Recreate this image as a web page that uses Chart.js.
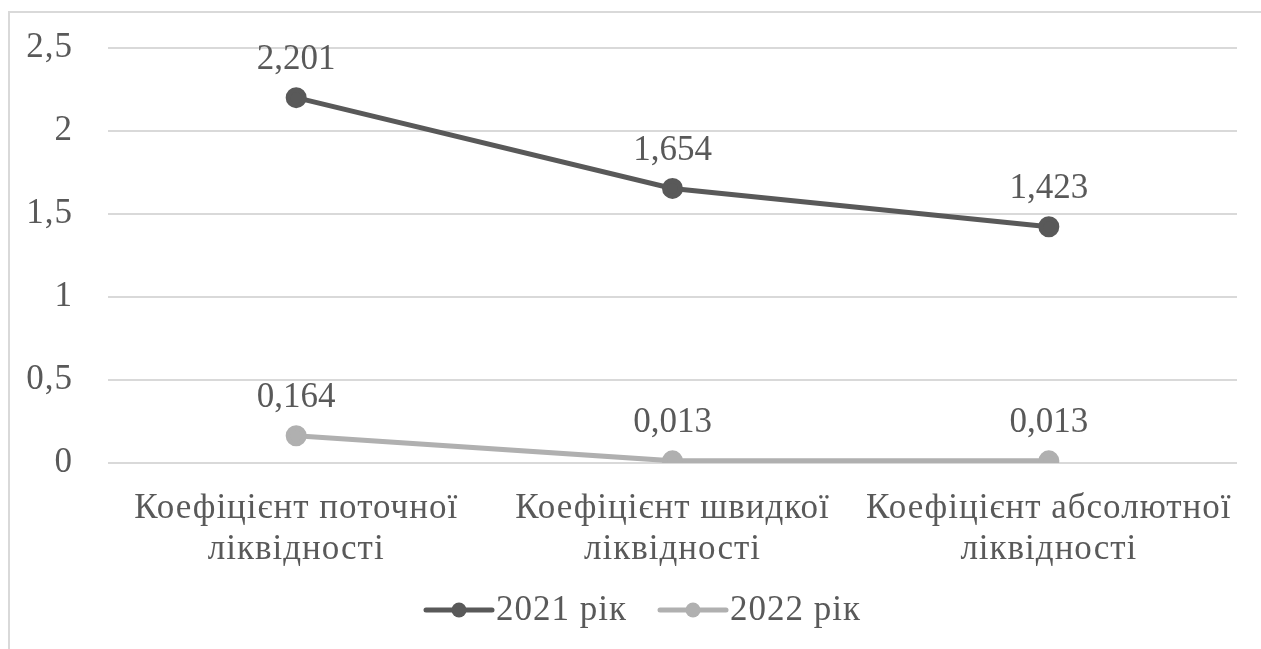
<!DOCTYPE html>
<html>
<head>
<meta charset="utf-8">
<script src="https://cdn.jsdelivr.net/npm/chart.js@4/dist/chart.umd.min.js"></script>
<style>
  html, body { margin: 0; padding: 0; background: #fff; }
  #wrap { position: relative; width: 1261px; height: 649px; overflow: hidden; }
  #frame { position: absolute; left: 8px; top: 11px; width: 1270px; height: 700px; border: 2px solid #d9d9d9; box-sizing: border-box; }
  canvas { position: absolute; left: 0; top: 0; }
</style>
</head>
<body>
<div id="wrap">
  <div id="frame"></div>
  <canvas id="chart" width="1261" height="649"></canvas>
</div>
<script>
// Chart data
const categories = [
    ['Коефіцієнт поточної', 'ліквідності'],
    ['Коефіцієнт швидкої', 'ліквідності'],
    ['Коефіцієнт абсолютної', 'ліквідності']
];
const seriesNames = ['2021 рік', '2022 рік'];
const values2021 = [2.201, 1.654, 1.423];
const values2022 = [0.164, 0.013, 0.013];
const yTicks = [0, 0.5, 1, 1.5, 2, 2.5];

const FONT = '"Liberation Serif", "Times New Roman", serif';
const TEXT = '#595959';
const colors = ['#595959', '#b0b0b0'];

function fmt(v) {
    return String(v).replace('.', ',');
}

// Axis text in the original is slightly tracked out
const spacing = {
    id: 'spacing',
    beforeDraw(chart) { chart.ctx.letterSpacing = '1px'; },
    beforeDatasetsDraw(chart) { chart.ctx.letterSpacing = '0px'; }
};

// Value labels above each point
const pointLabels = {
    id: 'pointLabels',
    afterDatasetsDraw(chart) {
        const ctx = chart.ctx;
        ctx.save();
        ctx.font = '35px ' + FONT;
        ctx.fillStyle = TEXT;
        ctx.textAlign = 'center';
        ctx.textBaseline = 'middle';
        chart.data.datasets.forEach((ds, i) => {
            chart.getDatasetMeta(i).data.forEach((pt, j) => {
                ctx.fillText(fmt(ds.data[j]), pt.x, pt.y - 38);
            });
        });
        ctx.restore();
    }
};

// Excel-like legend: line with a dot, then name
const lineLegend = {
    id: 'lineLegend',
    afterDraw(chart) {
        const ctx = chart.ctx;
        const y = 610;
        const starts = [426, 660];
        ctx.save();
        ctx.letterSpacing = '1px';
        ctx.font = '35px ' + FONT;
        ctx.textBaseline = 'middle';
        chart.data.datasets.forEach((ds, i) => {
            const x = starts[i];
            ctx.strokeStyle = ds.borderColor;
            ctx.lineWidth = 5;
            ctx.lineCap = 'round';
            ctx.beginPath();
            ctx.moveTo(x, y);
            ctx.lineTo(x + 66, y);
            ctx.stroke();
            ctx.fillStyle = ds.borderColor;
            ctx.beginPath();
            ctx.arc(x + 33, y, 7.5, 0, Math.PI * 2);
            ctx.fill();
            ctx.fillStyle = TEXT;
            ctx.textAlign = 'left';
            ctx.fillText(ds.label, x + 70, y + 1);
        });
        ctx.restore();
    }
};

new Chart(document.getElementById('chart'), {
    type: 'line',
    data: {
        labels: categories,
        datasets: [{
            label: seriesNames[0],
            data: values2021,
            borderColor: colors[0],
            backgroundColor: colors[0],
            borderWidth: 5,
            pointRadius: 8,
            pointHoverRadius: 8,
            tension: 0
        }, {
            label: seriesNames[1],
            data: values2022,
            borderColor: colors[1],
            backgroundColor: colors[1],
            borderWidth: 5,
            pointRadius: 8,
            pointHoverRadius: 8,
            tension: 0
        }]
    },
    options: {
        responsive: false,
        animation: false,
        layout: { padding: { top: 48, right: 24, left: 0, bottom: 0 } },
        plugins: {
            legend: { display: false },
            tooltip: { enabled: false }
        },
        scales: {
            x: {
                offset: true,
                grid: { display: false, drawTicks: false },
                border: { display: false },
                ticks: {
                    color: TEXT,
                    font: { family: FONT, size: 35, lineHeight: 1.15 },
                    padding: 26,
                    maxRotation: 0,
                    autoSkip: false
                },
                afterFit(scale) {
                    scale.height = 186;
                    scale.paddingLeft = 0;
                    scale.paddingRight = 0;
                }
            },
            y: {
                min: 0,
                max: 2.5,
                afterBuildTicks(scale) {
                    scale.ticks = yTicks.map(v => ({ value: v }));
                },
                grid: { color: '#d9d9d9', lineWidth: 2, drawTicks: false },
                border: { display: false },
                ticks: {
                    color: TEXT,
                    font: { family: FONT, size: 35 },
                    padding: 35,
                    callback: v => fmt(v)
                },
                afterFit(scale) {
                    scale.width = 108;
                    scale.paddingTop = 0;
                    scale.paddingBottom = 0;
                }
            }
        }
    },
    plugins: [spacing, pointLabels, lineLegend]
});
</script>
</body>
</html>
